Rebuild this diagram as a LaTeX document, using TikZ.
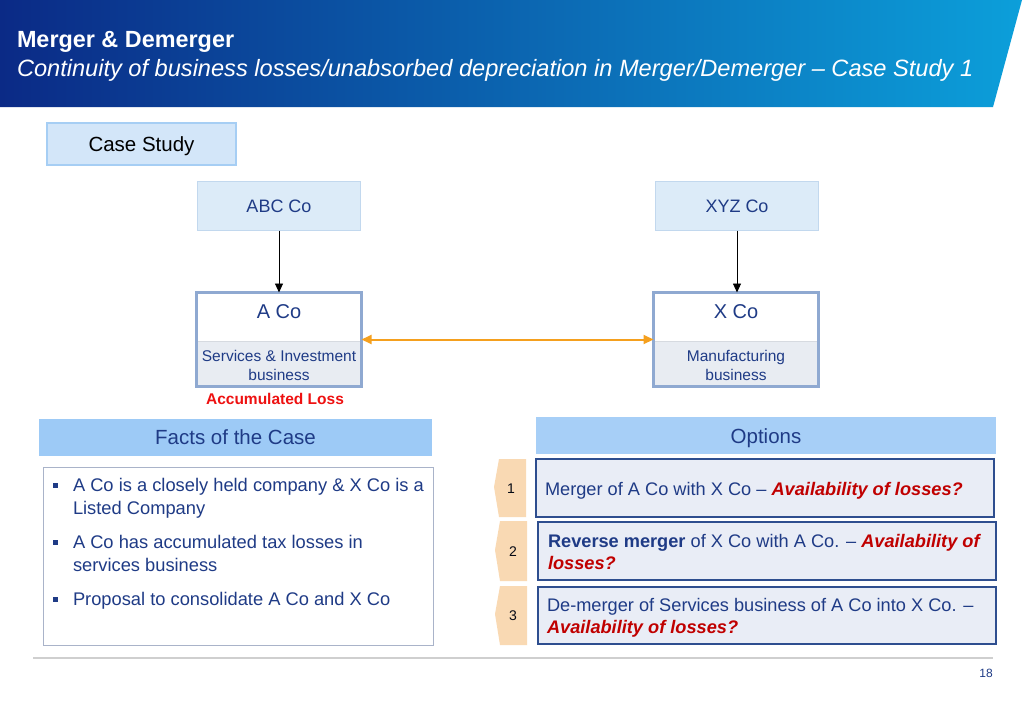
\documentclass[tikz,border=0pt]{standalone}
\usepackage{fontspec}
\setmainfont{Liberation Sans}
\usetikzlibrary{arrows.meta}
\definecolor{hdrL}{HTML}{0B2A86}
\definecolor{hdrM}{HTML}{0A4CA6}
\definecolor{hdrR}{HTML}{0C9FDA}
\definecolor{navy}{HTML}{1F3B86}
\definecolor{csfill}{HTML}{D3E6F9}
\definecolor{csdraw}{HTML}{A6CEF4}
\definecolor{abcfill}{HTML}{DCEBF8}
\definecolor{abcdraw}{HTML}{C2D8EE}
\definecolor{coborder}{HTML}{8FA9D1}
\definecolor{cogrey}{HTML}{E8ECF2}
\definecolor{sepgrey}{HTML}{D6DAE0}
\definecolor{orangearr}{HTML}{F5A01E}
\definecolor{accred}{HTML}{EE1111}
\definecolor{darkred}{HTML}{C00000}
\definecolor{hdrblue}{HTML}{9DCAF6}
\definecolor{factsdraw}{HTML}{A9B3C9}
\definecolor{optdraw}{HTML}{2E4E8F}
\definecolor{optfill}{HTML}{E9EDF6}
\definecolor{tabfill}{HTML}{F9D9B3}
\definecolor{rulegrey}{HTML}{CFCFCF}
\tikzset{
  fs/.style={font=\fontsize{#1}{#1}\selectfont},
  casebox/.style={draw=csdraw, line width=1.5pt, fill=csfill, minimum width=189pt, minimum height=42pt, text=black, fs=20.5},
  parentbox/.style={draw=abcdraw, line width=1pt, fill=abcfill, minimum width=163pt, minimum height=49pt, text=navy, fs=18},
  cobox/.style={draw=coborder, line width=3pt, fill=white, minimum width=165pt, minimum height=94pt},
  cotitle/.style={text=navy, fs=20},
  cosub/.style={text=navy, align=center, font=\fontsize{15.5}{19}\selectfont},
  secthdr/.style={fill=hdrblue, minimum height=37pt, text=navy, fs=20.5},
  factsbox/.style={draw=factsdraw, line width=1pt, fill=white},
  bodytext/.style={anchor=base west, text=navy, fs=18.3},
  bulletsq/.style={fill=navy, minimum width=5pt, minimum height=5pt},
  optbox/.style={draw=optdraw, line width=1.8pt, fill=optfill, minimum width=458pt, minimum height=58pt},
  opttext/.style={anchor=base west, text=navy, fs=18.2},
  tabnum/.style={text=black!85!navy, fs=14},
  tab/.style={fill=tabfill},
  conn/.style={draw=black, line width=0.9pt, -{Triangle[length=9pt,width=8pt]}},
  bidir/.style={draw=orangearr, line width=2pt, {Triangle[length=10pt,width=9pt]}-{Triangle[length=10pt,width=9pt]}}
}
\newcommand{\avl}[1]{\textcolor{darkred}{\bfseries\itshape #1}}
\begin{document}
\begin{tikzpicture}[x=1pt,y=-1pt, every node/.style={inner sep=0pt, outer sep=0pt}]
\useasboundingbox[fill=white] (0,0) rectangle (1024,709);
% header
\shade[left color=hdrL, middle color=hdrM, right color=hdrR] (0,0) -- (1022,0) -- (993,107) -- (0,107) -- cycle;
\node[anchor=base west, text=white, font=\bfseries\fontsize{23.4}{26}\selectfont] (title) at (17,48) {Merger \& Demerger};
\node[anchor=base west, text=white, font=\itshape\fontsize{23.6}{26}\selectfont] (subtitle) at (17,76) {Continuity of business losses/unabsorbed depreciation in Merger/Demerger – Case Study 1};
% case study
\node[casebox] (cs) at (141.5,144) {};
\node[text=black, fs=20.5] (cst) at (141.5,146) {Case Study};
% parents
\node[parentbox] (abc) at (279,206) {ABC Co};
\node[parentbox] (xyz) at (737,206) {XYZ Co};
% A Co
\node[cobox] (aco) at (279,339.5) {};
\fill[cogrey] (196.5,341) rectangle (361.5,386.5);
\draw[sepgrey, line width=1pt] (196.5,341) -- (361.5,341);
\draw[coborder, line width=3pt] (aco.north west) rectangle (aco.south east);
\node[cotitle] (acot) at (279,312) {A Co};
\node[cosub] (acos) at (279,365.5) {Services \& Investment\\business};
% X Co
\node[cobox] (xco) at (736,339.5) {};
\fill[cogrey] (653.5,341) rectangle (818.5,386.5);
\draw[sepgrey, line width=1pt] (653.5,341) -- (818.5,341);
\draw[coborder, line width=3pt] (xco.north west) rectangle (xco.south east);
\node[cotitle] (xcot) at (736,312) {X Co};
\node[cosub] (xcos) at (736,365.5) {Manufacturing\\business};
% connectors
\draw[conn] (abc.south) -- (aco.north);
\draw[conn] (xyz.south) -- (xyz.south |- xco.north);
\draw[bidir] (aco.east) -- (xco.west);
\node[text=accred, font=\bfseries\fontsize{15.5}{18}\selectfont] (acc) at (275,399) {Accumulated Loss};
% facts
\node[secthdr, minimum width=393pt] (factsh) at (235.5,437.5) {Facts of the Case};
\node[factsbox, minimum width=390pt, minimum height=178pt] (facts) at (238,556) {};
\node[bulletsq] (b1) at (55,485) {};
\node[bodytext] (f1a) at (73,491) {A Co is a closely held company \& X Co is a};
\node[bodytext] (f1b) at (73,514) {Listed Company};
\node[bulletsq] (b2) at (55,542) {};
\node[bodytext] (f2a) at (73,548) {A Co has accumulated tax losses in};
\node[bodytext] (f2b) at (73,571) {services business};
\node[bulletsq] (b3) at (55,599) {};
\node[bodytext] (f3a) at (73,605) {Proposal to consolidate A Co and X Co};
% options
\node[secthdr, fill=hdrblue!90!white, minimum width=460pt] (opth) at (766,435.5) {};
\node[text=navy, fs=20.5] (optt) at (766,438) {Options};
\node[optbox] (o1) at (765,488) {};
\node[optbox] (o2) at (767,551) {};
\node[optbox, minimum height=57pt] (o3) at (767,615.5) {};
% tabs
\fill[tab] (526,459) -- (499,459) -- (494,487) -- (499,517) -- (526,517) -- cycle;
\fill[tab] (527,521) -- (500,521) -- (495,550) -- (500,581) -- (527,581) -- cycle;
\fill[tab] (527,586) -- (500,586) -- (495,614) -- (500,645) -- (527,645) -- cycle;
\node[tabnum] (n1) at (511,489) {1};
\node[tabnum] (n2) at (513,552) {2};
\node[tabnum] (n3) at (513,616) {3};
\node[opttext] (t1) at (545,495) {Merger of A Co with X Co – \avl{Availability of losses?}};
\node[opttext] (t2a) at (548,547) {\textbf{Reverse merger} of X Co with A Co. – \avl{Availability of}};
\node[opttext] (t2b) at (548,569) {\avl{losses?}};
\node[opttext] (t3a) at (547,611) {De-merger of Services business of A Co into X Co. –};
\node[opttext] (t3b) at (547,633) {\avl{Availability of losses?}};
% footer
\draw[rulegrey, line width=1.5pt] (33,658) -- (993,658);
\node[text=navy, fs=12] (pg) at (986,673) {18};
\end{tikzpicture}
\end{document}
